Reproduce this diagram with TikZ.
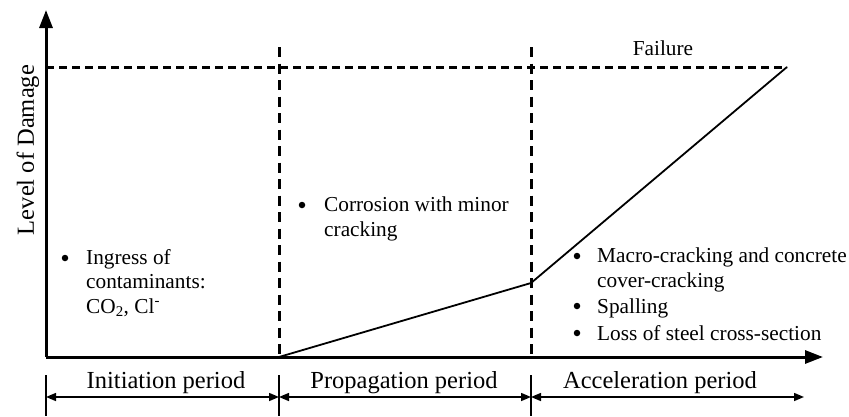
\documentclass[tikz,border=0pt]{standalone}
\usepackage{fontspec}
\setmainfont{Liberation Serif}
\usetikzlibrary{arrows.meta}
\tikzset{
  axisline/.style={line width=3pt},
  hdash/.style={line width=3pt, dash pattern=on 8pt off 5pt},
  vdash/.style={line width=3pt, dash pattern=on 10pt off 6.5pt},
  damage/.style={line width=1.8pt, line join=round},
  tickline/.style={line width=1.8pt},
  span/.style={line width=1.5pt, {Triangle[length=10pt,width=8pt]}-{Triangle[length=10pt,width=8pt]}},
  txt/.style={font=\fontsize{21.3}{24.5}\selectfont, inner sep=0pt, anchor=base west, align=left},
  ctxt/.style={font=\fontsize{21.3}{24}\selectfont, inner sep=0pt, anchor=base},
  ptxt/.style={font=\fontsize{24.5}{28}\selectfont, inner sep=0pt, anchor=base},
  bul/.style={circle, fill, inner sep=0pt, minimum size=6.5pt},
}
\begin{document}
\begin{tikzpicture}[x=1pt,y=-1pt]
\useasboundingbox (0,0) rectangle (849,416);
% key points
\coordinate (O) at (46,357);
\coordinate (Ytop) at (46,10);
\coordinate (Xend) at (823,357);
\coordinate (P1) at (279,357);
\coordinate (P2) at (531,283);
\coordinate (P3) at (787,67);
\coordinate (F0) at (46,67);
\coordinate (V1t) at (279,47);
\coordinate (V2t) at (531,47);
\coordinate (V2b) at (531,357);
% failure level and period borders
\draw[hdash] (F0) -- (P3);
\draw[vdash] (V1t) -- (P1);
\draw[vdash] (V2t) -- (V2b);
% axes
\draw[axisline, -{Triangle[length=18pt,width=13pt]}] (O) -- (Ytop);
\draw[axisline, -{Triangle[length=18pt,width=13pt]}] (O) -- (Xend);
% damage curve
\draw[damage] (P1) -- (P2) -- (P3);
% bottom ticks
\coordinate (T0a) at (46,375); \coordinate (T0b) at (46,416);
\coordinate (T1a) at (279,375); \coordinate (T1b) at (279,416);
\coordinate (T2a) at (531,375); \coordinate (T2b) at (531,416);
\coordinate (A0) at (46,397); \coordinate (A1) at (279,397);
\coordinate (A2) at (531,397); \coordinate (A3) at (804,397);
\draw[tickline] (T0a) -- (T0b);
\draw[tickline] (T1a) -- (T1b);
\draw[tickline] (T2a) -- (T2b);
\draw[span] (A0) -- (A1);
\draw[span] (A1) -- (A2);
\draw[span] (A2) -- (A3);
% labels
\node[ptxt] (lini) at (166,388) {Initiation period};
\node[ptxt] (lpro) at (404,388) {Propagation period};
\node[ptxt] (lacc) at (660,388) {Acceleration period};
\node[ctxt] (lfail) at (663,55) {Failure};
\node[font=\fontsize{24.5}{28}\selectfont, inner sep=0pt, rotate=90, anchor=base] (ylab) at (34,150) {Level of Damage};
% bullets
\node[bul] (b1) at (65,258) {};
\node[txt] (t1) at (86,313) {Ingress of\\contaminants:\\CO\textsubscript{2}, Cl\textsuperscript{-}};
\node[bul] (b2) at (302,205) {};
\node[txt] (t2) at (324,236) {Corrosion with minor\\cracking};
\node[bul] (b3) at (577,256) {};
\node[txt] (t3) at (597,287) {Macro-cracking and concrete\\cover-cracking};
\node[bul] (b4) at (577,306) {};
\node[txt] (t4) at (597,313) {Spalling};
\node[bul] (b5) at (577,333) {};
\node[txt] (t5) at (597,340) {Loss of steel cross-section};
\end{tikzpicture}
\end{document}
